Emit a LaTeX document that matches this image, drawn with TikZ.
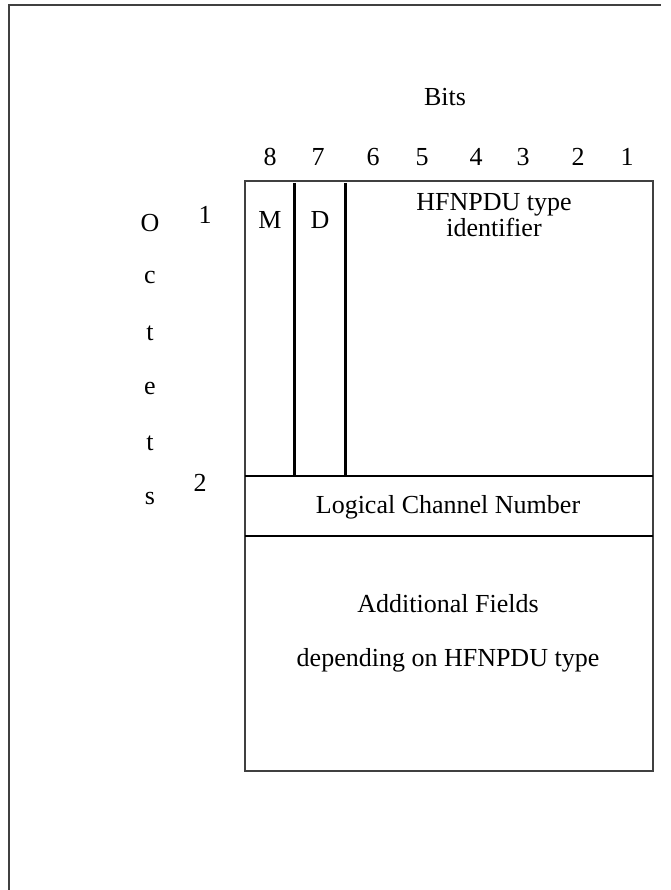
\documentclass[tikz,border=0pt]{standalone}
\usepackage{fontspec}
\setmainfont{Liberation Serif}
\begin{document}
\begin{tikzpicture}[x=1pt,y=-1pt,
  lbl/.style={inner sep=0pt, font=\fontsize{26}{26.5}\selectfont, align=center},
  rule/.style={line width=2.2pt, black},
  frame/.style={line width=2pt, black!75}]
\useasboundingbox (0,0) rectangle (670,890);

% page frame
\draw[frame] (9,890) -- (9,5) -- (661,5);

% header
\node[lbl] (bits) at (445,97) {Bits};
\foreach \b/\x in {8/270,7/318,6/373,5/422,4/476,3/523,2/578,1/627}
  \node[lbl] (bit\b) at (\x,157) {\b};

% octet labels
\foreach \c [count=\i] in {O,c,t,e,t,s}
  \node[lbl] (oct\i) at (150,{223+(\i-1)*55}) {\c};
\node[lbl] (row1) at (205,215) {1};
\node[lbl] (row2) at (200,483) {2};

% field layout
\draw[frame] (245,181) rectangle (653,771);
\draw[rule] (294.5,183) -- (294.5,476);
\draw[rule] (345.5,183) -- (345.5,476);
\draw[rule] (245,476) -- (653,476);
\draw[rule] (245,536) -- (653,536);

% field names
\node[lbl] (mflag) at (270,220) {M};
\node[lbl] (dflag) at (320,220) {D};
\node[lbl] (typeid) at (494,215) {HFNPDU type\\identifier};
\node[lbl] (lcn) at (448,507) {Logical Channel Number};
\node[lbl] (addf) at (448,604) {Additional Fields};
\node[lbl] (dep) at (448,660) {depending on HFNPDU type};
\end{tikzpicture}
\end{document}
